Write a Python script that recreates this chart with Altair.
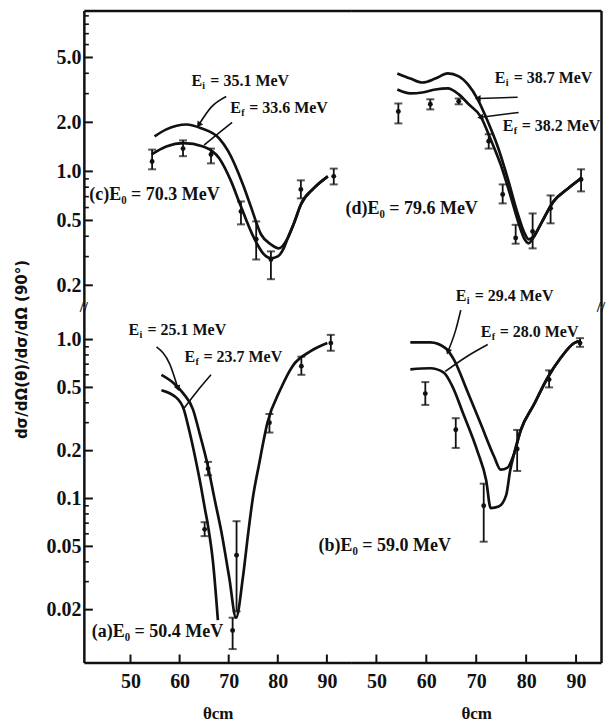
import math
import altair as alt
import pandas as pd

FONT = "Liberation Serif"
INK = "#111111"

# ---------------- panel (c): E0 = 70.3 MeV (top-left) ----------------
c_ei_theta = [54.9, 57.3, 61.4, 64.4, 68.1, 69.9, 72.9, 74.5, 76.6, 78.6, 80.2, 82.0, 83.4, 84.7, 87.3, 90.2]
c_ei_val = [1.64, 1.81, 1.94, 1.84, 1.59, 1.33, 0.83, 0.61, 0.41, 0.356, 0.337, 0.388, 0.49, 0.627, 0.786, 0.932]
c_ef_theta = [54.3, 57.3, 60.8, 64.8, 68.1, 70.5, 72.1, 75.2, 77.0, 78.6, 80.0, 81.2, 82.0, 83.4, 84.7, 87.3, 90.2]
c_ef_val = [1.27, 1.42, 1.49, 1.42, 1.2, 0.868, 0.654, 0.388, 0.314, 0.293, 0.301, 0.337, 0.388, 0.49, 0.627, 0.786, 0.932]
c_pt_theta = [54.4, 60.7, 66.4, 72.5, 75.6, 78.6, 84.7, 91.4]
c_pt_val = [1.15, 1.38, 1.27, 0.568, 0.383, 0.288, 0.775, 0.932]
c_pt_lo = [1.03, 1.24, 1.12, 0.473, 0.288, 0.218, 0.683, 0.832]
c_pt_hi = [1.36, 1.55, 1.38, 0.654, 0.493, 0.323, 0.881, 1.04]

# ---------------- panel (d): E0 = 79.6 MeV (top-right) ----------------
d_ei_theta = [54.2, 56.8, 59.2, 61.8, 64.3, 66.5, 68.5, 70.3, 72.3, 74.3, 76.3, 78.3, 79.7, 80.5, 81.5, 82.9, 85.5, 88.4, 91.0]
d_ei_val = [3.99, 3.71, 3.51, 3.71, 3.99, 3.83, 3.37, 2.77, 2.03, 1.42, 0.906, 0.552, 0.416, 0.383, 0.399, 0.473, 0.655, 0.786, 0.906]
d_ef_theta = [54.2, 56.8, 59.2, 61.8, 64.3, 66.5, 68.5, 70.9, 72.9, 74.9, 76.9, 78.5, 79.7, 80.5, 81.5, 82.9, 85.5, 88.4, 91.0]
d_ef_val = [3.18, 3.01, 3.05, 3.18, 3.23, 2.97, 2.58, 2.17, 1.57, 1.10, 0.703, 0.48, 0.383, 0.362, 0.394, 0.473, 0.655, 0.786, 0.906]
d_pt_theta = [54.4, 60.8, 66.5, 72.5, 75.3, 77.9, 81.3, 84.9, 91.0]
d_pt_val = [2.33, 2.58, 2.69, 1.53, 0.722, 0.39, 0.428, 0.593, 0.893]
d_pt_lo = [1.97, 2.4, 2.58, 1.38, 0.636, 0.36, 0.337, 0.48, 0.754]
d_pt_hi = [2.61, 2.77, 2.8, 1.69, 0.832, 0.47, 0.552, 0.712, 1.03]

# ---------------- panel (a): E0 = 50.4 MeV (bottom-left) ----------------
a_ei_theta = [56.3, 58.7, 60.7, 62.7, 64.1, 65.8, 67.1, 68.5, 70.1, 71.5, 72.9, 73.9, 74.9, 76.2, 77.9, 80.6, 83.0, 86.7, 90.1]
a_ei_val = [0.6, 0.535, 0.46, 0.365, 0.255, 0.158, 0.1, 0.062, 0.032, 0.0178, 0.032, 0.058, 0.1, 0.165, 0.3, 0.49, 0.68, 0.845, 0.95]
a_ef_theta = [56.3, 59.7, 60.7, 62.0, 63.4, 64.4, 65.1, 65.8, 66.8, 67.8]
a_ef_val = [0.48, 0.42, 0.375, 0.265, 0.168, 0.117, 0.088, 0.067, 0.04, 0.0172]
a_pt_theta = [65.1, 65.8, 70.8, 71.6, 78.3, 84.8, 90.8]
a_pt_val = [0.064, 0.154, 0.0148, 0.044, 0.3, 0.68, 0.95]
a_pt_lo = [0.058, 0.14, 0.0113, 0.0195, 0.26, 0.6, 0.85]
a_pt_hi = [0.071, 0.17, 0.0178, 0.072, 0.34, 0.78, 1.07]

# ---------------- panel (b): E0 = 59.0 MeV (bottom-right) ----------------
b_ei_theta = [56.8, 60.8, 63.9, 65.5, 68.2, 70.9, 73.6, 74.9, 76.2, 77.6, 78.9, 81.6, 84.3, 86.9, 89.6, 91.0]
b_ei_val = [0.96, 0.96, 0.88, 0.75, 0.475, 0.295, 0.183, 0.152, 0.156, 0.192, 0.268, 0.392, 0.575, 0.765, 0.95, 0.98]
b_ef_theta = [56.8, 60.8, 63.5, 65.2, 67.5, 70.2, 72.0, 72.9, 74.5, 76.0, 76.8, 77.6, 78.9, 81.6, 84.3, 86.9, 89.6, 91.0]
b_ef_val = [0.65, 0.66, 0.62, 0.51, 0.335, 0.2, 0.13, 0.087, 0.089, 0.105, 0.15, 0.192, 0.268, 0.392, 0.575, 0.765, 0.95, 0.98]
b_pt_theta = [59.8, 65.9, 71.5, 78.2, 84.6, 90.8]
b_pt_val = [0.457, 0.271, 0.09, 0.205, 0.56, 0.95]
b_pt_lo = [0.388, 0.208, 0.0535, 0.149, 0.5, 0.9]
b_pt_hi = [0.54, 0.32, 0.124, 0.27, 0.64, 1.02]

# ---------------- annotations ----------------
e_lab_panel = ["c", "c", "d", "d", "a", "a", "b", "b"]
e_lab_theta = [62.4, 70.3, 73.7, 75.3, 49.6, 61.0, 65.9, 70.9]
e_lab_val = [3.57, 2.45, 3.72, 1.89, 1.15, 0.774, 1.87, 1.12]
e_lab_sub = ["i", "f", "i", "f", "i", "f", "i", "f"]
e_lab_rest = ["= 35.1 MeV", "= 33.6 MeV", "= 38.7 MeV", "= 38.2 MeV",
              "= 25.1 MeV", "= 23.7 MeV", "= 29.4 MeV", "= 28.0 MeV"]
e0_panel = ["c", "d", "a", "b"]
e0_theta = [41.6, 43.8, 42.1, 38.4]
e0_val = [0.72, 0.585, 0.0145, 0.0506]
e0_text = ["(c)E\u2080 = 70.3 MeV", "(d)E\u2080 = 79.6 MeV", "(a)E\u2080 = 50.4 MeV", "(b)E\u2080 = 59.0 MeV"]
# leader lines: points run from the label to the tip on the curve
lead_panel = ["c"] * 6 + ["d"] * 4 + ["a"] * 6 + ["b"] * 6
lead_id = ["ci", "ci", "ci", "cf", "cf", "cf", "di", "di", "df", "df",
           "ai", "ai", "ai", "af", "af", "af", "bi", "bi", "bi", "bf", "bf", "bf"]
lead_theta = [69.5, 66.4, 64.0, 70.7, 68.1, 65.0, 78.3, 70.5, 78.5, 71.0,
              55.3, 58.0, 59.6, 66.4, 63.5, 60.9, 66.9, 65.9, 64.4, 72.3, 67.9, 63.8]
lead_val = [2.88, 2.47, 1.95, 2.0, 1.73, 1.45, 2.85, 2.8, 2.3, 2.15,
            0.9, 0.7, 0.5, 0.6, 0.47, 0.37, 1.53, 1.15, 0.85, 0.93, 0.774, 0.63]
arrow_ids = ["ci", "di", "df", "ai", "bi"]

# ---------------- axes ----------------
x_ticks = [50, 60, 70, 80, 90]
top_major = [0.2, 0.5, 1.0, 2.0, 5.0]
top_minor = [0.3, 0.4, 0.6, 0.7, 0.8, 0.9, 3, 4, 6, 7, 8, 9]
bot_major = [0.02, 0.05, 0.1, 0.2, 0.5, 1.0]
bot_minor = [0.03, 0.04, 0.06, 0.07, 0.08, 0.09, 0.3, 0.4, 0.6, 0.7, 0.8, 0.9]

X_LEFT = [40.5, 95.0]
X_RIGHT = [45.0, 95.0]
Y_TOP = [0.147, 9.7]
Y_BOT = [0.0093, 1.6]

W_LEFT, W_RIGHT = 268, 250
H_TOP, H_BOT = 297, 356

YTITLE = "d\u03c3/d\u03a9(\u03b8)/d\u03c3/d\u03a9  (90\u00b0)"
LABEL_EXPR = "datum.value >= 1 ? format(datum.value, '.1f') : format(datum.value, '~g')"


def make_panel(key, ei_t, ei_v, ef_t, ef_v, p_t, p_v, p_lo, p_hi,
               xdom, ydom, w, h, left, bottom, majors, minors):
    xs = alt.Scale(domain=xdom, nice=False, zero=False)
    ys = alt.Scale(type="log", domain=ydom, nice=False)
    if bottom:
        xax = alt.Axis(orient="bottom", values=x_ticks, ticks=False, domain=True,
                       labels=True, format="d", labelPadding=9,
                       title="\u03b8cm", titlePadding=14, titleFontSize=17)
    else:
        xax = alt.Axis(orient="top", values=x_ticks, ticks=False, domain=True,
                       labels=False, title=None)
    if left:
        if bottom:
            yax = alt.Axis(orient="left", values=majors, ticks=False, domain=True,
                           labelExpr=LABEL_EXPR, labelPadding=3, title=YTITLE, titleAngle=270,
                           titleX=-62, titleY=42, titleAlign="center", titleBaseline="middle",
                           titleFont="DejaVu Sans", titleFontSize=15)
        else:
            yax = alt.Axis(orient="left", values=majors, ticks=False, domain=True,
                           labelExpr=LABEL_EXPR, labelPadding=3, title=None)
    else:
        yax = alt.Axis(orient="right", values=majors, ticks=False, domain=True,
                       labels=False, title=None)

    def X():
        return alt.X("theta:Q", scale=xs, axis=xax)

    def Y():
        return alt.Y("val:Q", scale=ys, axis=yax)

    def to_px(t, v):
        px = (t - xdom[0]) / (xdom[1] - xdom[0]) * w
        py = (math.log10(ydom[1]) - math.log10(v)) / (math.log10(ydom[1]) - math.log10(ydom[0])) * h
        return px, py

    curves = pd.DataFrame({
        "theta": ei_t + ef_t,
        "val": ei_v + ef_v,
        "series": ["Ei"] * len(ei_t) + ["Ef"] * len(ef_t),
    })
    pts = pd.DataFrame({"theta": p_t, "val": p_v, "lo": p_lo, "hi": p_hi})
    caps = pd.DataFrame({"theta": p_t + p_t, "val": p_lo + p_hi})
    labs = pd.DataFrame({"panel": e_lab_panel, "theta": e_lab_theta, "val": e_lab_val,
                         "head": ["E"] * len(e_lab_panel), "sub": e_lab_sub, "rest": e_lab_rest})
    labs = labs[labs.panel == key]
    e0 = pd.DataFrame({"panel": e0_panel, "theta": e0_theta, "val": e0_val, "text": e0_text})
    e0 = e0[e0.panel == key]
    lead = pd.DataFrame({"panel": lead_panel, "id": lead_id, "theta": lead_theta, "val": lead_val})
    lead = lead[lead.panel == key]

    # arrowheads at the tips of some leader lines, pointing along the last segment
    heads = []
    for lid in lead.id.unique():
        if lid not in arrow_ids:
            continue
        seg = lead[lead.id == lid]
        (t0, v0), (t1, v1) = list(zip(seg.theta, seg.val))[-2:]
        x0, y0 = to_px(t0, v0)
        x1, y1 = to_px(t1, v1)
        ang = math.degrees(math.atan2(x1 - x0, -(y1 - y0))) % 360
        heads.append({"theta": t1, "val": v1, "ang": ang})
    heads = pd.DataFrame(heads, columns=["theta", "val", "ang"])

    layers = [
        alt.Chart(curves).mark_line(color=INK, strokeWidth=2.7, interpolate="monotone", clip=True)
        .encode(x=X(), y=Y(), detail="series:N"),
        alt.Chart(lead).mark_line(color=INK, strokeWidth=1.6, interpolate="monotone")
        .encode(x=X(), y=Y(), detail="id:N"),
        alt.Chart(pts).mark_rule(color=INK, strokeWidth=1.8)
        .encode(x=X(), y=alt.Y("lo:Q", scale=ys, axis=yax), y2="hi:Q"),
        alt.Chart(caps).mark_tick(color=INK, orient="horizontal", size=8, thickness=2)
        .encode(x=X(), y=Y()),
        alt.Chart(pts).mark_point(color=INK, filled=True, size=24, opacity=1)
        .encode(x=X(), y=Y()),
    ]
    if len(heads):
        layers.append(alt.Chart(heads).mark_point(shape="triangle", filled=True, color=INK,
                                                  size=45, opacity=1, strokeWidth=0)
                      .encode(x=X(), y=Y(), angle=alt.Angle("ang:Q", scale=None)))
    if len(labs):
        base = alt.Chart(labs)
        layers.append(base.mark_text(align="left", baseline="middle", font=FONT, fontSize=16,
                                     fontWeight="bold", color=INK)
                      .encode(x=X(), y=Y(), text="head:N"))
        layers.append(base.mark_text(align="left", baseline="middle", font=FONT, fontSize=10,
                                     fontWeight="bold", color=INK, dx=11, dy=5)
                      .encode(x=X(), y=Y(), text="sub:N"))
        layers.append(base.mark_text(align="left", baseline="middle", font=FONT, fontSize=16,
                                     fontWeight="bold", color=INK, dx=19)
                      .encode(x=X(), y=Y(), text="rest:N"))
    if len(e0):
        layers.append(alt.Chart(e0).mark_text(align="left", baseline="middle", font=FONT, fontSize=18,
                                              fontWeight="bold", color=INK)
                      .encode(x=X(), y=Y(), text="text:N"))
    if left:
        layers.append(alt.Chart(pd.DataFrame({"val": majors})).mark_rule(color=INK, strokeWidth=2)
                      .encode(y=Y(), x=alt.value(0), x2=alt.value(9)))
        layers.append(alt.Chart(pd.DataFrame({"val": minors})).mark_rule(color=INK, strokeWidth=1.6)
                      .encode(y=Y(), x=alt.value(0), x2=alt.value(5)))
    if bottom:
        layers.append(alt.Chart(pd.DataFrame({"theta": x_ticks})).mark_rule(color=INK, strokeWidth=2)
                      .encode(x=X(), y=alt.value(h), y2=alt.value(h - 8)))
        brk = pd.DataFrame({"theta": [xdom[0] if left else xdom[1]], "val": [ydom[1]], "t": ["//"]})
        layers.append(alt.Chart(brk).mark_text(font=FONT, fontSize=15, fontWeight="bold", color=INK,
                                               align="center", baseline="middle")
                      .encode(x=X(), y=Y(), text="t:N"))
    return alt.layer(*layers).properties(width=w, height=h)


pc = make_panel("c", c_ei_theta, c_ei_val, c_ef_theta, c_ef_val, c_pt_theta, c_pt_val, c_pt_lo, c_pt_hi,
                X_LEFT, Y_TOP, W_LEFT, H_TOP, True, False, top_major, top_minor)
pd_ = make_panel("d", d_ei_theta, d_ei_val, d_ef_theta, d_ef_val, d_pt_theta, d_pt_val, d_pt_lo, d_pt_hi,
                 X_RIGHT, Y_TOP, W_RIGHT, H_TOP, False, False, top_major, top_minor)
pa = make_panel("a", a_ei_theta, a_ei_val, a_ef_theta, a_ef_val, a_pt_theta, a_pt_val, a_pt_lo, a_pt_hi,
                X_LEFT, Y_BOT, W_LEFT, H_BOT, True, True, bot_major, bot_minor)
pb = make_panel("b", b_ei_theta, b_ei_val, b_ef_theta, b_ef_val, b_pt_theta, b_pt_val, b_pt_lo, b_pt_hi,
                X_RIGHT, Y_BOT, W_RIGHT, H_BOT, False, True, bot_major, bot_minor)

chart = (
    alt.concat(pc, pd_, pa, pb, columns=2, spacing=0, bounds="flush")
    .properties(padding={"left": 14, "top": 10, "right": 8, "bottom": 2}, background="white")
    .configure_view(stroke=None)
    .configure_axis(domainColor=INK, domainWidth=2.5, labelFont=FONT, labelFontSize=20,
                    labelFontWeight="bold", labelColor=INK, titleFont=FONT, titleFontSize=18,
                    titleFontWeight="bold", titleColor=INK, grid=False)
)

chart.save("out.html", embed_options={"renderer": "svg", "actions": False})
